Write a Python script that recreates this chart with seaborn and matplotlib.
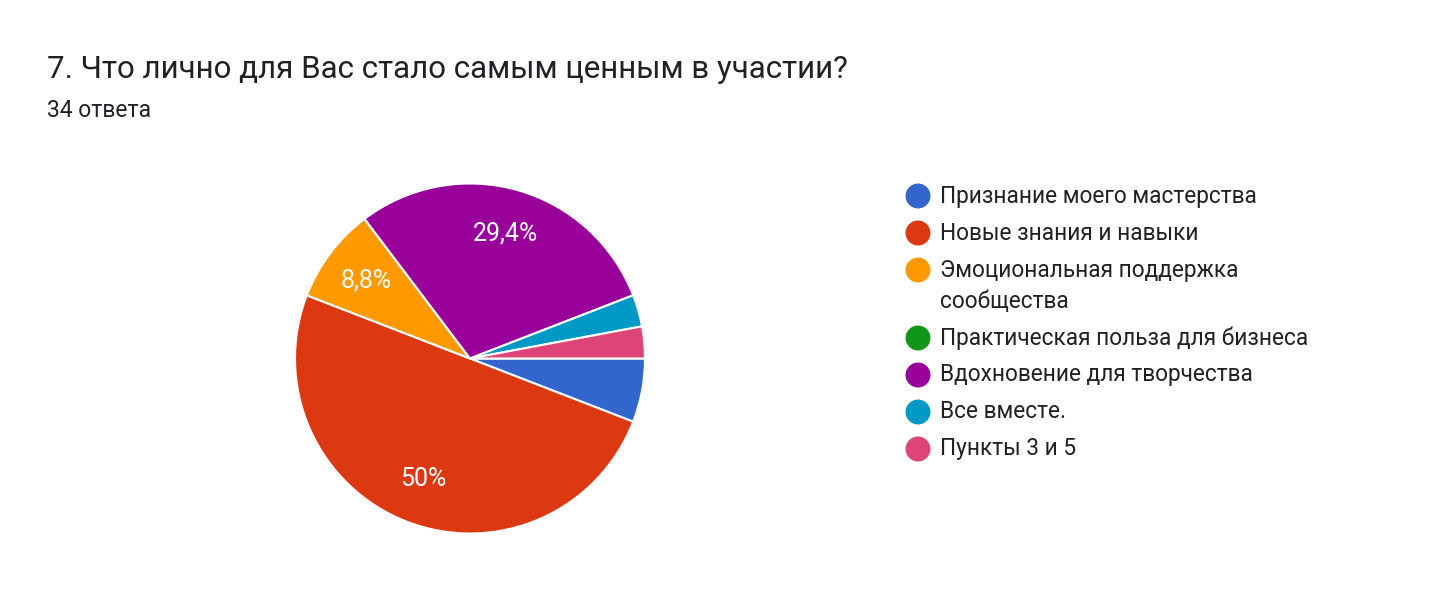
import matplotlib
matplotlib.use("Agg")
import matplotlib.pyplot as plt
import seaborn as sns

title = "7. Что лично для Вас стало самым ценным в участии?"
subtitle = "34 ответа"

categories = [
    "Признание моего мастерства",
    "Новые знания и навыки",
    "Эмоциональная поддержка\nсообщества",
    "Практическая польза для бизнеса",
    "Вдохновение для творчества",
    "Все вместе.",
    "Пункты 3 и 5",
]
counts = [2, 17, 3, 0, 10, 1, 1]
colors = ["#3366cc", "#dc3912", "#ff9900", "#109618", "#990099", "#0099c6", "#dd4477"]

sns.set_theme(style="white")
plt.rcParams['font.family'] = ['Roboto', 'DejaVu Sans']

W, H = 1431, 601
fig = plt.figure(figsize=(W / 100, H / 100), dpi=100)
fig.patch.set_facecolor("white")


def pct_label(p):
    if p < 7:
        return ""
    s = f"{p:.1f}"
    if s.endswith(".0"):
        s = s[:-2]
    return s.replace(".", ",") + "%"


# pie axes: centre ~(470, 358), radius ~175 px
cx, cy, r = 470, 358.5, 175
ax = fig.add_axes([(cx - r) / W, (H - cy - r) / H, 2 * r / W, 2 * r / H])
wedges, texts, autotexts = ax.pie(
    counts,
    colors=colors,
    startangle=0,
    counterclock=False,
    autopct=pct_label,
    pctdistance=0.74,
    wedgeprops=dict(edgecolor="white", linewidth=1.5),
    textprops=dict(color="white", fontsize=18),
)
ax.set_xlim(-1, 1)
ax.set_ylim(-1, 1)
ax.set_aspect("equal")

fig.text(47 / W, 1 - 70 / H, title, fontsize=22.5, color="#202124", va="center", ha="left")
fig.text(47 / W, 1 - 110 / H, subtitle, fontsize=16.5, color="#202124", va="center", ha="left")

# legend drawn on an overlay in pixel coordinates
lax = fig.add_axes([0, 0, 1, 1], zorder=-1)
lax.set_xlim(0, W)
lax.set_ylim(H, 0)
lax.axis("off")
y = 196
for label, col in zip(categories, colors):
    lax.scatter([918], [y], s=24 ** 2 * 0.56, color=col, edgecolor="none")
    lines = label.split("\n")
    for i, line in enumerate(lines):
        lax.text(940, y + 31 * i, line, fontsize=16.3, color="#212121",
                 va="center", ha="left")
    y += 37 + 31 * (len(lines) - 1)

fig.savefig("out.png", dpi=100, facecolor="white")
